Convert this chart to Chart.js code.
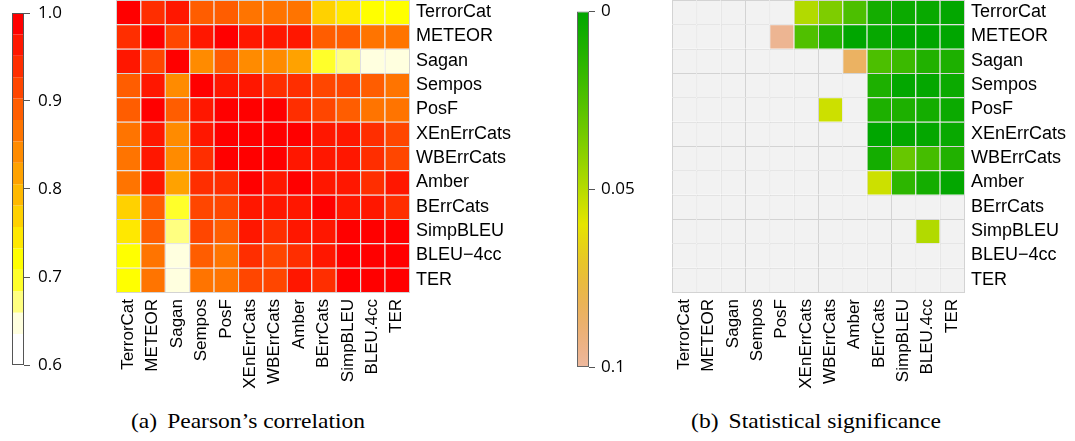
<!DOCTYPE html>
<html><head><meta charset="utf-8">
<script src="https://cdn.jsdelivr.net/npm/chart.js@4.4.1/dist/chart.umd.min.js"></script>
<style>
html,body{margin:0;padding:0;background:#fff;width:1075px;height:441px;overflow:hidden;position:relative}
canvas{position:absolute}
.cap{position:absolute;top:411px;width:300px;text-align:center;font-family:"Liberation Serif","Times New Roman",serif;font-size:21px;line-height:21px;white-space:nowrap;color:#000;transform:scaleX(1.12);transform-origin:center}
.cap span{margin-right:9px}
</style></head><body>
<canvas id="cbA" width="100" height="390" style="left:0px;top:0px"></canvas>
<canvas id="hmA" width="443" height="402" style="left:116px;top:0px"></canvas>
<canvas id="cbB" width="100" height="390" style="left:560px;top:0px"></canvas>
<canvas id="hmB" width="396" height="402" style="left:672px;top:0px"></canvas>
<div class="cap" style="left:98px"><span>(a)</span>Pearson’s correlation</div>
<div class="cap" style="left:666px"><span>(b)</span>Statistical significance</div>
<script>
// ---------- labels ----------
const colLabels = ['TerrorCat','METEOR','Sagan','Sempos','PosF','XEnErrCats','WBErrCats','Amber','BErrCats','SimpBLEU','BLEU.4cc','TER'];
const rowLabels = ['TerrorCat','METEOR','Sagan','Sempos','PosF','XEnErrCats','WBErrCats','Amber','BErrCats','SimpBLEU','BLEU\u22124cc','TER'];

// ---------- (a) Pearson's correlation, one array per row ----------
const corrTerrorCat  = [1.00, 0.94, 0.962, 0.89, 0.886, 0.866, 0.862, 0.865, 0.772, 0.745, 0.72, 0.716];
const corrMETEOR     = [0.94, 1.00, 0.915, 0.965, 0.978, 0.962, 0.96, 0.958, 0.892, 0.886, 0.866, 0.862];
const corrSagan      = [0.962, 0.915, 1.00, 0.842, 0.888, 0.84, 0.838, 0.818, 0.696, 0.67, 0.648, 0.645];
const corrSempos     = [0.89, 0.965, 0.842, 1.00, 0.962, 0.958, 0.94, 0.936, 0.914, 0.908, 0.885, 0.87];
const corrPosF       = [0.886, 0.978, 0.888, 0.962, 1.00, 0.985, 0.982, 0.94, 0.915, 0.89, 0.866, 0.862];
const corrXEnErrCats = [0.866, 0.962, 0.84, 0.958, 0.985, 1.00, 0.99, 0.984, 0.962, 0.96, 0.94, 0.915];
const corrWBErrCats  = [0.862, 0.96, 0.838, 0.94, 0.982, 0.99, 1.00, 0.965, 0.96, 0.955, 0.94, 0.912];
const corrAmber      = [0.865, 0.958, 0.818, 0.936, 0.94, 0.984, 0.965, 1.00, 0.962, 0.96, 0.945, 0.965];
const corrBErrCats   = [0.772, 0.892, 0.696, 0.914, 0.915, 0.962, 0.96, 0.962, 1.00, 0.965, 0.962, 0.94];
const corrSimpBLEU   = [0.745, 0.886, 0.67, 0.908, 0.89, 0.96, 0.945, 0.96, 0.965, 1.00, 0.988, 0.985];
const corrBLEU4cc    = [0.72, 0.866, 0.648, 0.885, 0.866, 0.94, 0.92, 0.945, 0.962, 0.988, 1.00, 0.99];
const corrTER        = [0.716, 0.862, 0.645, 0.87, 0.862, 0.915, 0.912, 0.965, 0.94, 0.985, 0.99, 1.00];

// ---------- (b) statistical significance (p-values; null = not significant) ----------
const n = null;
const pTerrorCat  = [n, n, n, n, n, 0.049, 0.037, 0.024, 0.007, 0.004, 0.003, 0.001];
const pMETEOR     = [n, n, n, n, 0.097, 0.025, 0.011, 0.0, 0.002, 0.0, 0.0, 0.0];
const pSagan      = [n, n, n, n, n, n, n, 0.085, 0.024, 0.019, 0.011, 0.010];
const pSempos     = [n, n, n, n, n, n, n, n, 0.010, 0.001, 0.0015, 0.004];
const pPosF       = [n, n, n, n, n, n, 0.0546, n, 0.010, 0.010, 0.007, 0.004];
const pXEnErrCats = [n, n, n, n, n, n, n, n, 0.0, 0.0015, 0.0015, 0.003];
const pWBErrCats  = [n, n, n, n, n, n, n, n, 0.007, 0.031, 0.022, 0.011];
const pAmber      = [n, n, n, n, n, n, n, n, 0.0546, 0.015, 0.007, 0.001];
const pBErrCats   = [n, n, n, n, n, n, n, n, n, n, n, n];
const pSimpBLEU   = [n, n, n, n, n, n, n, n, n, n, 0.049, n];
const pBLEU4cc    = [n, n, n, n, n, n, n, n, n, n, n, n];
const pTER        = [n, n, n, n, n, n, n, n, n, n, n, n];

// colour-bar ranges and tick labels
const corrRange = [0.6, 1.0];
const corrStep = 0.02432;
const pRange = [0, 0.1];
const pTicks = [0, 0.05, 0.1];
const pTickLabels = ['0', '0.05', '0.1'];

const corrRows = [corrTerrorCat, corrMETEOR, corrSagan, corrSempos, corrPosF, corrXEnErrCats, corrWBErrCats, corrAmber, corrBErrCats, corrSimpBLEU, corrBLEU4cc, corrTER];
const pRows = [pTerrorCat, pMETEOR, pSagan, pSempos, pPosF, pXEnErrCats, pWBErrCats, pAmber, pBErrCats, pSimpBLEU, pBLEU4cc, pTER];

// ---------- styles ----------
const corrPalette = ['#FF0000','#FF1700','#FF2E00','#FF4600','#FF5D00','#FF7400','#FF8B00','#FFA200','#FFB900','#FFD100','#FFE800','#FFFF00','#FFFF2A','#FFFF80','#FFFFDF','#FFFFFF'];
const gridColor = '#d3d3d3';
const sans = '"Liberation Sans", Arial, sans-serif';
const cbFont = '"Open Sans", "DejaVu Sans", sans-serif';

function corrColor(v) {
  let k = Math.floor((corrRange[1] - v) / corrStep + 1e-9);
  k = Math.max(0, Math.min(corrPalette.length - 1, k));
  return corrPalette[k];
}
function hsv(h, s, v) {
  const i = Math.floor(h * 6), f = h * 6 - i;
  const p = v * (1 - s), q = v * (1 - f * s), t = v * (1 - (1 - f) * s);
  let r, g, b;
  switch (((i % 6) + 6) % 6) {
    case 0: r = v; g = t; b = p; break;
    case 1: r = q; g = v; b = p; break;
    case 2: r = p; g = v; b = t; break;
    case 3: r = p; g = q; b = v; break;
    case 4: r = t; g = p; b = v; break;
    default: r = v; g = p; b = q;
  }
  return `rgb(${Math.round(r*255)},${Math.round(g*255)},${Math.round(b*255)})`;
}
function pColor(p) {
  if (p === null) return '#F2F2F2';
  const u = Math.min(p / 0.12, 1);
  if (u <= 0.5) { const t = u / 0.5; return hsv(1/3 - t/6, 1, 0.65 + 0.25*t); }
  const t = (u - 0.5) / 0.5;
  return hsv(1/6 - t/6, 1 - t, 0.9 + 0.05*t);
}

Chart.defaults.font.family = sans;

function heatmap(id, rows, colorFn, yWidth, xHeight) {
  const datasets = rows.map((row, r) => ({
    label: rowLabels[r],
    data: row.map(() => 1),
    backgroundColor: row.map(colorFn),
    borderColor: gridColor,
    borderWidth: {top: 1, left: 1, right: 0, bottom: 0},
    borderSkipped: false,
    inflateAmount: 0,
    barPercentage: 1,
    categoryPercentage: 1
  })).reverse();
  new Chart(document.getElementById(id), {
    type: 'bar',
    data: {labels: colLabels, datasets},
    options: {
      responsive: false, animation: false, events: [],
      layout: {padding: 0},
      plugins: {legend: {display: false}, tooltip: {enabled: false}},
      scales: {
        x: {
          stacked: true,
          grid: {display: false, drawTicks: false},
          border: {display: true, color: gridColor, width: 1, z: 1},
          ticks: {autoSkip: false, maxRotation: 90, minRotation: 90, padding: 7, color: '#000', font: {family: sans, size: 17}},
          afterFit(s) { s.height = xHeight; s.paddingLeft = 0; s.paddingRight = 0; }
        },
        y: {
          stacked: true, position: 'right', min: 0, max: rowLabels.length,
          grid: {display: false, drawTicks: false},
          border: {display: true, color: gridColor, width: 1, z: 1},
          afterBuildTicks(s) { s.ticks = rowLabels.map((_, i) => ({value: i + 0.5})); },
          ticks: {padding: 7, color: '#000', font: {family: sans, size: 18},
            callback: (v) => rowLabels[rowLabels.length - 1 - Math.floor(v)]},
          afterFit(s) { s.width = yWidth; s.paddingTop = 0; s.paddingBottom = 0; }
        }
      }
    }
  });
}

// (a) colour bar: discrete bands
const bandDatasets = corrPalette.map((c, k) => {
  const hi = corrRange[1] - k * corrStep;
  const lo = (k === corrPalette.length - 1) ? corrRange[0] : corrRange[1] - (k + 1) * corrStep;
  return {data: [[lo, hi]], backgroundColor: c, borderWidth: 0, grouped: false, order: 1,
          barPercentage: 1, categoryPercentage: 1, inflateAmount: 0};
});
bandDatasets.unshift({data: [[corrRange[0], corrRange[1]]], backgroundColor: 'rgba(0,0,0,0)', borderColor: '#555',
  borderWidth: 1, borderSkipped: false, grouped: false, order: 0, barPercentage: 1, categoryPercentage: 1, inflateAmount: 0});

new Chart(document.getElementById('cbA'), {
  type: 'bar',
  data: {labels: [''], datasets: bandDatasets},
  options: {
    responsive: false, animation: false, events: [],
    layout: {padding: {left: 12, top: 13, right: 0, bottom: 25}},
    plugins: {legend: {display: false}, tooltip: {enabled: false}},
    scales: {
      x: {display: false},
      y: {position: 'right', min: corrRange[0], max: corrRange[1],
        grid: {display: true, drawOnChartArea: false, drawTicks: true, tickLength: 6, color: '#555'},
        border: {display: false},
        ticks: {stepSize: 0.1, padding: 8, color: '#000', font: {family: cbFont, size: 17}, callback: (v) => Number(v).toFixed(1)},
        afterFit(s) { s.width = 76; s.paddingTop = 0; s.paddingBottom = 0; }
      }
    }
  }
});

// (b) colour bar: continuous gradient
new Chart(document.getElementById('cbB'), {
  type: 'bar',
  data: {labels: [''], datasets: [{
    data: [[pRange[0], pRange[1]]],
    backgroundColor: (ctx) => {
      const ch = ctx.chart, a = ch.chartArea;
      if (!a) return '#fff';
      const ys = ch.scales.y;
      const g = ch.ctx.createLinearGradient(0, a.top, 0, a.bottom);
      for (let i = 0; i <= 40; i++) {
        const p = pRange[0] + (pRange[1] - pRange[0]) * i / 40;
        const f = (ys.getPixelForValue(p) - a.top) / (a.bottom - a.top);
        g.addColorStop(Math.max(0, Math.min(1, f)), pColor(p));
      }
      return g;
    },
    borderColor: '#666', borderWidth: 1, borderSkipped: false, grouped: false,
    barPercentage: 1, categoryPercentage: 1, inflateAmount: 0
  }]},
  options: {
    responsive: false, animation: false, events: [],
    layout: {padding: {left: 17, top: 11, right: 0, bottom: 23}},
    plugins: {legend: {display: false}, tooltip: {enabled: false}},
    scales: {
      x: {display: false},
      y: {position: 'right', min: pRange[0], max: pRange[1], reverse: true,
        grid: {display: true, drawOnChartArea: false, drawTicks: true, tickLength: 6, color: '#555'},
        border: {display: false},
        afterBuildTicks(s) { s.ticks = pTicks.map(v => ({value: v})); },
        ticks: {padding: 6, color: '#000', font: {family: cbFont, size: 17}, callback: (v, i) => pTickLabels[i]},
        afterFit(s) { s.width = 71; s.paddingTop = 0; s.paddingBottom = 0; }
      }
    }
  }
});

heatmap('hmA', corrRows, corrColor, 150, 110);
heatmap('hmB', pRows, pColor, 104, 110);
</script>
</body></html>
